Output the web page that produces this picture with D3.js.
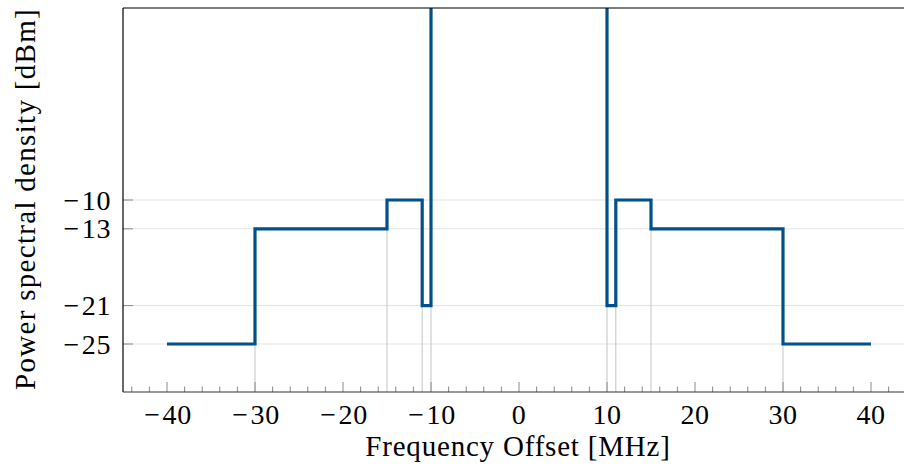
<!DOCTYPE html>
<html>
<head>
<meta charset="utf-8">
<script src="https://cdn.jsdelivr.net/npm/d3@7"></script>
<style>
  body { margin: 0; background: #fff; }
  svg { display: block; }
  text { font-family: "Liberation Serif", "DejaVu Serif", serif; fill: #000; }
</style>
</head>
<body>
<div id="vis"></div>
<script>
// spectrum emission mask, step edges and levels between them
const maskEdges = [-40, -30, -15, -11, -10, 10, 11, 15, 30, 40];
const maskLevels = [-25, -13, -10, -21, 40, -21, -10, -13, -25]; // 40 = carrier, off the top
const xMajorTicks = [-40, -30, -20, -10, 0, 10, 20, 30, 40];
const xMinorTicks = d3.range(-44, 45, 2);
const yTicks = [-25, -21, -13, -10];
const xLabel = "Frequency Offset [MHz]";
const yLabel = "Power spectral density [dBm]";

const W = 904, H = 466;
const plotL = 123, plotT = 8, plotB = 392, plotR = 915;

const svg = d3.select("#vis").append("svg")
	.attr("width", W)
	.attr("height", H);

const x = d3.scaleLinear().domain([-45, 45]).range([plotL, plotR]);
const y = d3.scaleLinear().domain([-30, 10]).range([plotB, plotT]);

svg.append("clipPath").attr("id", "plotClip")
	.append("rect")
	.attr("x", plotL).attr("y", plotT)
	.attr("width", plotR - plotL).attr("height", plotB - plotT);

// horizontal grid
svg.append("g")
	.selectAll("line")
	.data(yTicks)
	.enter()
	.append("line")
	.attr("x1", plotL).attr("x2", W)
	.attr("y1", d => y(d)).attr("y2", d => y(d))
	.attr("stroke", "#e3e3e3")
	.attr("stroke-width", 1);

// mask line as a step path
const pts = [];
maskLevels.forEach((v, i) => {
	pts.push([maskEdges[i], v]);
	pts.push([maskEdges[i + 1], v]);
});

// vertical drop lines at inner breakpoints, up to the lower of the two levels
const drops = maskEdges.slice(1, -1).map((e, i) => ({
	x: e,
	v: Math.min(maskLevels[i], maskLevels[i + 1])
}));
svg.append("g")
	.selectAll("line")
	.data(drops)
	.enter()
	.append("line")
	.attr("x1", d => x(d.x)).attr("x2", d => x(d.x))
	.attr("y1", plotB).attr("y2", d => y(d.v))
	.attr("stroke", "#c4c4c4")
	.attr("stroke-width", 1);

const line = d3.line().x(d => x(d[0])).y(d => y(d[1]));
svg.append("path")
	.datum(pts)
	.attr("clip-path", "url(#plotClip)")
	.attr("d", line)
	.attr("fill", "none")
	.attr("stroke", "#01508b")
	.attr("stroke-width", 3.2)
	.attr("stroke-linejoin", "miter");

// ticks, pointing inside
const tickG = svg.append("g").attr("stroke", "#8a8a8a").attr("stroke-width", 1);
tickG.selectAll("line.minor")
	.data(xMinorTicks.filter(t => t % 10 !== 0))
	.enter()
	.append("line")
	.attr("class", "minor")
	.attr("x1", d => x(d)).attr("x2", d => x(d))
	.attr("y1", plotB).attr("y2", plotB - 5.5);
tickG.selectAll("line.major")
	.data(xMajorTicks)
	.enter()
	.append("line")
	.attr("class", "major")
	.attr("x1", d => x(d)).attr("x2", d => x(d))
	.attr("y1", plotB).attr("y2", plotB - 10);
tickG.selectAll("line.ytick")
	.data(yTicks)
	.enter()
	.append("line")
	.attr("class", "ytick")
	.attr("x1", plotL).attr("x2", plotL + 10)
	.attr("y1", d => y(d)).attr("y2", d => y(d));

// spines: left, bottom, top
svg.append("line").attr("x1", plotL).attr("x2", plotL).attr("y1", plotT).attr("y2", plotB)
	.attr("stroke", "#000").attr("stroke-width", 1.2);
svg.append("line").attr("x1", plotL).attr("x2", W).attr("y1", plotB).attr("y2", plotB)
	.attr("stroke", "#333").attr("stroke-width", 1.2);
svg.append("line").attr("x1", plotL).attr("x2", W).attr("y1", plotT).attr("y2", plotT)
	.attr("stroke", "#000").attr("stroke-width", 1.2);

// tick label with a math-style minus
const tickLabel = (sel, d) => {
	if (d < 0) {
		sel.append("tspan").text("\u2212");
		sel.append("tspan").attr("dx", 2).text(Math.abs(d));
	} else {
		sel.text(String(d));
	}
};

svg.append("g")
	.selectAll("text")
	.data(xMajorTicks)
	.enter()
	.append("text")
	.attr("x", d => x(d) + (d < 0 ? 1 : 0))
	.attr("y", 424)
	.attr("text-anchor", "middle")
	.attr("font-size", 28)
	.attr("letter-spacing", 0.6)
	.each(function (d) { tickLabel(d3.select(this), d); });

svg.append("g")
	.selectAll("text")
	.data(yTicks)
	.enter()
	.append("text")
	.attr("x", 111)
	.attr("y", d => y(d) + 9.5)
	.attr("text-anchor", "end")
	.attr("font-size", 28)
	.attr("letter-spacing", 0.6)
	.each(function (d) { tickLabel(d3.select(this), d); });

svg.append("text")
	.attr("x", 518)
	.attr("y", 456)
	.attr("text-anchor", "middle")
	.attr("font-size", 29)
	.attr("letter-spacing", 0.8)
	.text(xLabel);

svg.append("text")
	.attr("transform", "translate(35,199) rotate(-90)")
	.attr("text-anchor", "middle")
	.attr("font-size", 29)
	.attr("letter-spacing", 1.3)
	.text(yLabel);
</script>
</body>
</html>
